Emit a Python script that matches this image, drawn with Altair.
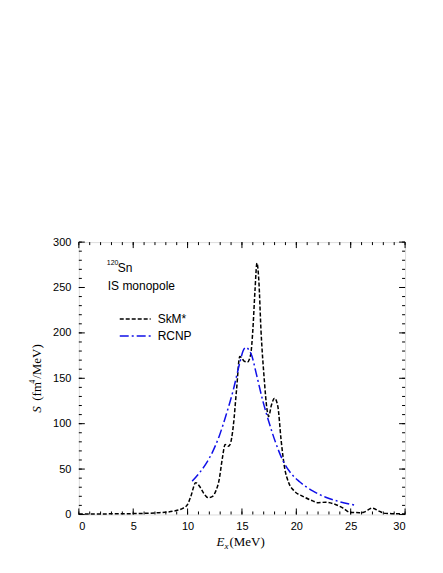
import altair as alt
import pandas as pd

# SkM* (theory) strength function
skm_x = [0, 2, 4, 6, 7.4, 8.7, 9.6, 10.0, 10.3, 10.75, 11.1, 11.5, 11.9, 12.3, 12.6, 12.9,
         13.2, 13.45, 13.7, 13.9, 14.2, 14.5, 14.8, 15.0, 15.2, 15.5, 15.8, 16.0, 16.2, 16.38,
         16.55, 16.75, 17.05, 17.3, 17.46, 17.7, 18.0, 18.3, 18.6, 18.9, 19.3, 19.8, 20.6,
         21.5, 22.0, 22.7, 23.6, 24.3, 24.9, 25.8, 26.2, 27.0, 27.6, 28.2, 29, 30]
skm_y = [0.5, 0.6, 0.8, 1.2, 2, 3.7, 7, 11, 20, 35, 31, 23, 18.5, 20, 26, 38,
         62, 77, 75, 77, 97, 137, 174, 172, 169, 168, 176, 203, 247, 277,
         258, 203, 149, 116, 108, 120, 128, 119, 82, 53, 35, 26, 20,
         15, 13, 13.5, 11, 7, 2.5, 2, 2.5, 7, 3.7, 1.2, 0.8, 0.6]

# RCNP (experiment) strength function
rcnp_x = [10.43, 11.1, 11.7, 12.3, 12.9, 13.5, 14.2, 14.8, 15.1, 15.35, 15.6, 15.9, 16.3,
          16.9, 17.5, 18.1, 18.7, 19.4, 20.3, 21.5, 22.7, 24.0, 25.5]
rcnp_y = [36.7, 46, 56, 69, 86, 108, 137, 167, 180, 184, 182, 175, 156,
          126, 101, 79, 61, 47, 36, 26, 19, 14, 10]

x_major = [0, 5, 10, 15, 20, 25, 30]
x_minor = list(range(0, 31))
y_major = [0, 50, 100, 150, 200, 250, 300]
y_minor = list(range(0, 301, 10))

W, H = 327, 273

df = pd.concat([
    pd.DataFrame({"E": skm_x, "S": skm_y, "series": "SkM*"}),
    pd.DataFrame({"E": rcnp_x, "S": rcnp_y, "series": "RCNP"}),
])

xs = alt.Scale(domain=[0, 30], nice=False, zero=False)
ys = alt.Scale(domain=[0, 300], nice=False, zero=False)
xaxis = alt.Axis(values=x_major, ticks=False, domain=False, grid=False,
                 labelFont="Liberation Sans", labelFontSize=11,
                 labelColor="black", labelPadding=6)
yaxis = alt.Axis(values=y_major, ticks=False, domain=False, grid=False,
                 labelFont="Liberation Sans", labelFontSize=11,
                 labelColor="black", labelPadding=8)

lines = alt.Chart(df).mark_line(strokeWidth=1.5, interpolate="monotone").encode(
    x=alt.X("E:Q", scale=xs, title=None, axis=xaxis),
    y=alt.Y("S:Q", scale=ys, title=None, axis=yaxis),
    color=alt.Color("series:N", legend=None,
                    scale=alt.Scale(domain=["SkM*", "RCNP"], range=["black", "#1010e8"])),
    strokeDash=alt.StrokeDash("series:N", legend=None,
                              scale=alt.Scale(domain=["SkM*", "RCNP"],
                                              range=[[4, 2], [9, 3, 2, 3]])),
)

def xticks(vals, size):
    d = pd.DataFrame({"v": vals})
    b = alt.Chart(d).mark_rule(color="black", strokeWidth=1).encode(
        x=alt.X("v:Q", scale=xs, title=None, axis=xaxis), y=alt.value(H), y2=alt.value(H - size))
    t = alt.Chart(d).mark_rule(color="black", strokeWidth=1).encode(
        x=alt.X("v:Q", scale=xs, title=None, axis=xaxis), y=alt.value(0), y2=alt.value(size))
    return [b, t]

def yticks(vals, size):
    d = pd.DataFrame({"v": vals})
    l = alt.Chart(d).mark_rule(color="black", strokeWidth=1).encode(
        y=alt.Y("v:Q", scale=ys, title=None, axis=yaxis), x=alt.value(0), x2=alt.value(size))
    r = alt.Chart(d).mark_rule(color="black", strokeWidth=1).encode(
        y=alt.Y("v:Q", scale=ys, title=None, axis=yaxis), x=alt.value(W), x2=alt.value(W - size))
    return [l, r]

ticks = xticks(x_minor, 3) + xticks(x_major, 6) + yticks(y_minor, 3) + yticks(y_major, 6)

def txt(s, x, y, size=12, font="Liberation Sans", style="normal", angle=0, align="left",
        baseline="alphabetic", color="black"):
    return alt.Chart(pd.DataFrame({"t": [s]})).mark_text(
        font=font, fontSize=size, fontStyle=style, angle=angle, align=align,
        baseline=baseline, color=color).encode(
        text="t:N", x=alt.value(x), y=alt.value(y))

# page offsets: plot left = 79, top = 242
L0, T0 = 79, 242
annots = [
    txt("120", 107 - L0, 265 - T0, size=7),
    txt("Sn", 118 - L0, 272 - T0, size=12),
    txt("IS monopole", 108 - L0, 290 - T0, size=12),
    txt("SkM*", 158 - L0, 323 - T0, size=12),
    txt("RCNP", 158 - L0, 340 - T0, size=12),
    # x title
    txt("E", 217 - L0, 547 - T0, size=13, font="Liberation Serif", style="italic"),
    txt("x", 225 - L0, 550 - T0, size=9, font="Liberation Serif", style="italic"),
    txt("(MeV)", 230 - L0, 547 - T0, size=13, font="Liberation Serif"),
    # y title (rotated)
    txt("S", 41 - L0, 413 - T0, size=13, font="Liberation Serif", style="italic", angle=270),
    txt("(fm", 41 - L0, 401 - T0, size=13, font="Liberation Serif", angle=270),
    txt("4", 35 - L0, 384 - T0, size=8, font="Liberation Serif", angle=270),
    txt("/MeV)", 41 - L0, 379 - T0, size=13, font="Liberation Serif", angle=270),
]

leg = [
    alt.Chart(pd.DataFrame({"a": [0]})).mark_rule(color="black", strokeWidth=1.5,
                                                   strokeDash=[4, 2]).encode(
        x=alt.value(120 - L0), x2=alt.value(151 - L0), y=alt.value(319 - T0)),
    alt.Chart(pd.DataFrame({"a": [0]})).mark_rule(color="#1010e8", strokeWidth=1.5,
                                                   strokeDash=[9, 3, 2, 3]).encode(
        x=alt.value(120 - L0), x2=alt.value(151 - L0), y=alt.value(336 - T0)),
]

chart = alt.layer(lines, *ticks, *leg, *annots).properties(
    width=W, height=H,
    autosize=alt.AutoSizeParams(type="none"),
    padding={"left": 71, "top": 234, "right": 30, "bottom": 50},
).configure_view(stroke="black", strokeWidth=1).configure(background="white")

chart.save("out.html", embed_options={"renderer": "svg", "actions": False})
